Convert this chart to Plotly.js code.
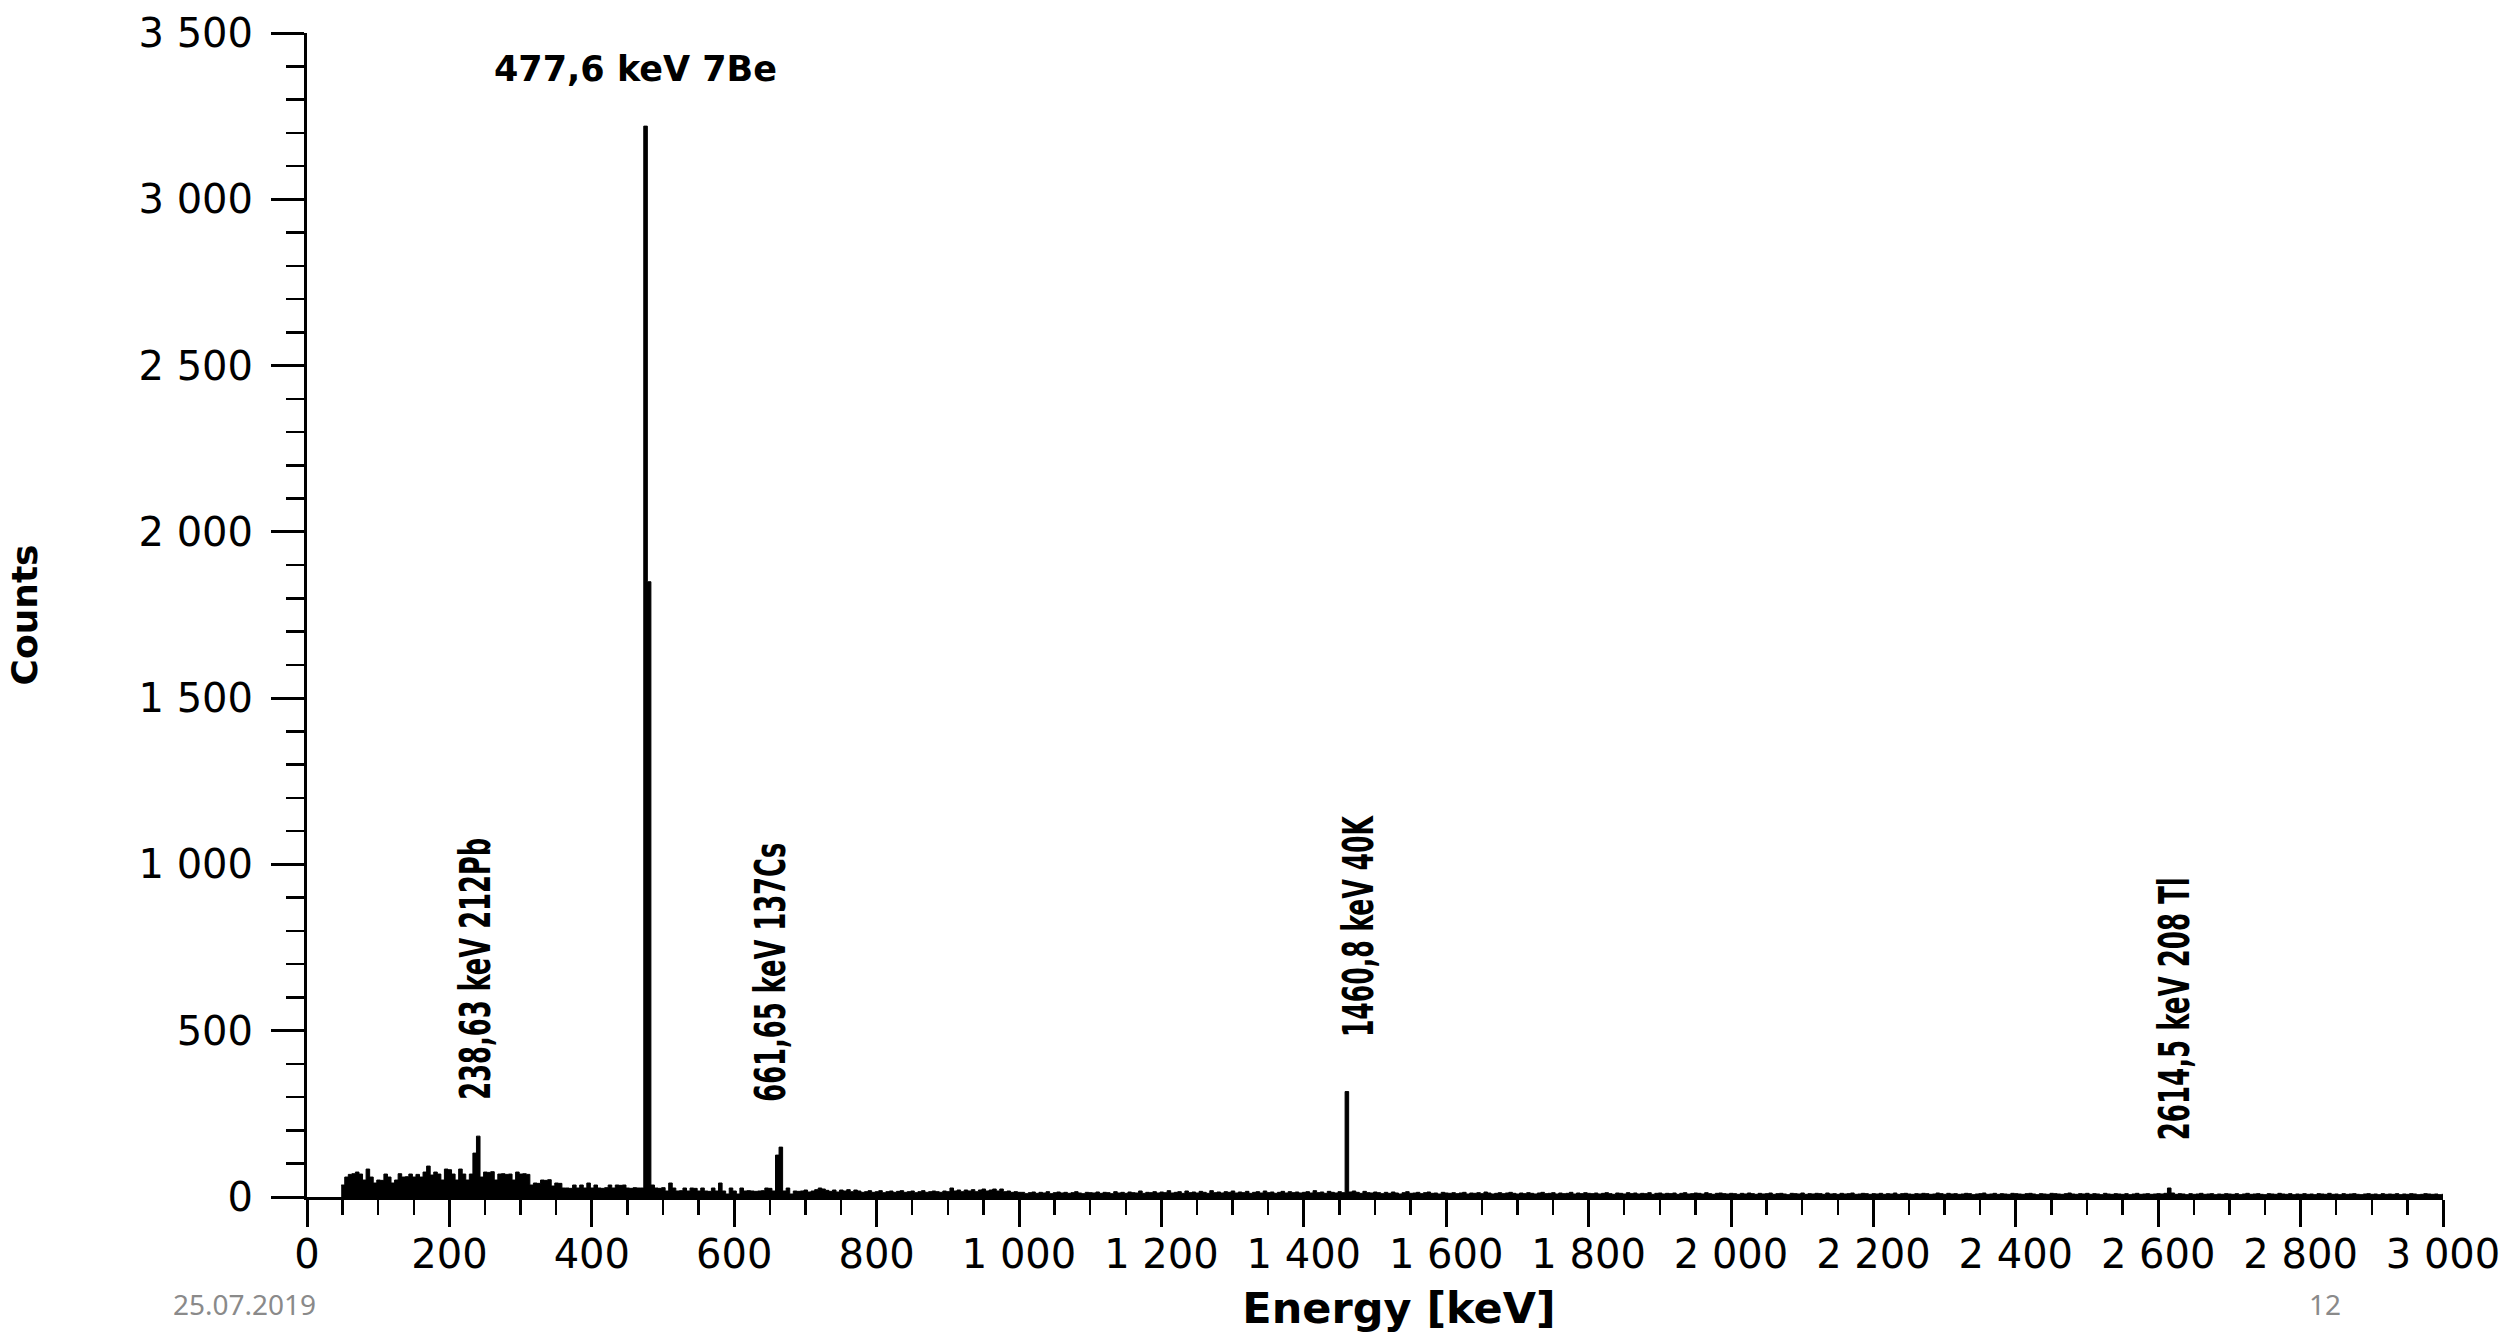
<!DOCTYPE html>
<html>
<head>
<meta charset="utf-8">
<script src="https://cdn.plot.ly/plotly-3.0.1.min.js"></script>
<style>
html, body { margin: 0; padding: 0; background: #ffffff; }
#chart { width: 2509px; height: 1340px; }
</style>
</head>
<body>
<div id="chart"></div>
<script>
// ---- data ----
const binWidthKeV = 5;          // width of one channel group, keV
const firstBinStartKeV = 48;    // left edge of the first non-empty bin

// counts, bins 48 ... 368 keV
const countsLowEnergy = [
  36, 60, 68, 70, 75, 69, 51, 84, 60, 42,
  51, 50, 69, 60, 42, 51, 70, 60, 61, 69,
  60, 68, 60, 75, 93, 66, 75, 69, 51, 84,
  82, 69, 51, 84, 69, 51, 69, 132, 183, 60,
  75, 74, 76, 51, 69, 70, 68, 69, 51, 75,
  69, 70, 68, 36, 42, 41, 51, 50, 52, 33,
  42, 41, 27, 27, 26
];
// counts, bins 373 ... 688 keV
const countsMidEnergy = [
  36, 27, 36, 27, 42, 27, 36, 27, 26, 28,
  36, 27, 36, 35, 36, 27, 26, 28, 27, 27,
  3220, 1850, 36, 27, 26, 28, 18, 42, 27, 18,
  19, 27, 18, 27, 26, 18, 27, 18, 17, 27,
  18, 42, 18, 9, 27, 18, 9, 27, 18, 19,
  18, 17, 18, 19, 27, 26, 18, 126, 150, 18,
  27, 9, 18, 17
];
// counts, bins 693 ... 998 keV
const countsUpperEnergy = [
  18, 21, 15, 18, 22, 27, 24, 20, 17, 21, 15, 21, 18, 22, 16, 21, 18, 14, 16, 19,
  14, 16, 19, 13, 16, 18, 14, 17, 19, 14, 16, 18, 13, 16, 19, 14, 16, 18, 16, 14,
  18, 16, 27, 18, 21, 16, 21, 18, 22, 16, 21, 24, 18, 21, 24, 18, 24, 16, 18, 14,
  16, 14
];
// counts, bins 1003 ... 1498 keV
const countsBand1 = [
  14, 10, 13, 15, 11, 14, 12, 16, 10, 13, 15, 12, 14, 11, 13, 16, 12, 10, 14, 13,
  12, 15, 11, 14, 13, 10, 16, 12, 14, 11, 15, 13, 12, 18, 11, 14, 13, 16, 12, 15,
  13, 19, 12, 14, 16, 11, 18, 13, 15, 12, 17, 14, 11, 19, 13, 15, 12, 16, 14, 18,
  12, 15, 13, 17, 11, 14, 16, 12, 18, 13, 15, 11, 14, 17, 12, 16, 13, 15, 12, 14,
  16, 12, 19, 13, 15, 11, 17, 14, 12, 16, 13, 317, 15, 18, 14, 11, 17, 13, 12, 15
];
// counts, bins 1503 ... 1998 keV
const countsBand2 = [
  13, 10, 14, 11, 15, 12, 9, 13, 16, 11, 12, 14, 10, 13, 15, 11, 12, 9, 14, 12,
  11, 13, 10, 12, 14, 9, 12, 11, 13, 10, 15, 12, 9, 11, 13, 10, 12, 14, 11, 9,
  12, 10, 13, 11, 9, 12, 14, 10, 11, 13, 9, 12, 10, 11, 14, 9, 12, 10, 13, 11,
  10, 12, 9, 11, 13, 10, 8, 12, 11, 9, 13, 10, 12, 9, 11, 10, 13, 8, 11, 12,
  9, 11, 10, 12, 8, 11, 13, 9, 10, 12, 11, 9, 13, 10, 8, 11, 12, 10, 9, 11
];
// counts, bins 2003 ... 2498 keV
const countsBand3 = [
  10, 8, 11, 9, 12, 10, 8, 11, 9, 10, 12, 8, 10, 11, 9, 7, 11, 10, 9, 12,
  8, 10, 9, 11, 10, 8, 12, 9, 10, 8, 11, 9, 10, 12, 8, 9, 11, 10, 8, 10,
  9, 11, 8, 10, 9, 12, 8, 10, 11, 9, 8, 10, 9, 11, 10, 8, 9, 12, 10, 8,
  11, 9, 10, 8, 9, 11, 10, 7, 9, 10, 12, 8, 9, 11, 8, 10, 9, 8, 11, 10,
  9, 8, 10, 11, 9, 7, 10, 9, 8, 11, 10, 9, 8, 10, 12, 9, 8, 10, 9, 11
];
// counts, bins 2503 ... 2998 keV
const countsBand4 = [
  8, 10, 9, 7, 11, 9, 8, 10, 9, 8, 10, 7, 9, 11, 8, 9, 10, 8, 9, 10,
  9, 11, 27, 12, 8, 10, 9, 7, 10, 8, 9, 11, 8, 9, 10, 7, 9, 8, 10, 9,
  8, 10, 7, 9, 11, 8, 9, 10, 8, 7, 10, 9, 8, 11, 9, 8, 10, 7, 9, 8,
  10, 8, 9, 7, 10, 9, 8, 11, 8, 9, 7, 10, 8, 9, 10, 8, 7, 9, 10, 8,
  9, 7, 10, 8, 9, 8, 10, 7, 9, 8, 10, 9, 7, 8, 10, 9, 8, 9, 7, 8
];

const peakEnergies = [238.63, 477.6, 661.65, 1460.8, 2614.5];
const peakLabels = ['238,63 keV 212Pb', '477,6 keV 7Be', '661,65 keV 137Cs', '1460,8 keV 40K', '2614,5 keV 208 Tl'];

const xAxisTitle = 'Energy [keV]';
const yAxisTitle = 'Counts';
const footerDate = '25.07.2019';
const footerPage = '12';

// ---- build the histogram ----
const counts = [].concat(countsLowEnergy, countsMidEnergy, countsUpperEnergy,
                         countsBand1, countsBand2, countsBand3, countsBand4);
const binEdges = counts.map((_, i) => firstBinStartKeV + binWidthKeV * i);
// closing edge so the last bin gets its width in the step drawing
const stepX = binEdges.concat([binEdges[binEdges.length - 1] + binWidthKeV]);
const stepY = counts.concat([counts[counts.length - 1]]);

const spectrum = {
  type: 'scatter',
  mode: 'lines',
  x: stepX,
  y: stepY,
  line: { shape: 'hv', color: '#000000', width: 1 },
  fill: 'tozeroy',
  fillcolor: '#000000',
  hoverinfo: 'skip',
  showlegend: false
};

// ---- label placement (style, not data) ----
const labelStyle = [
  { rot: -90, y: 688, dx: -2, len: 262 },
  { rot: 0,   y: 3392, dx: -12, len: 0 },
  { rot: -90, y: 676, dx: -8, len: 259 },
  { rot: -90, y: 815, dx: 12, len: 221 },
  { rot: -90, y: 565, dx: 6, len: 263 }
];
const condensedFont = '"DejaVu Sans Condensed", "DejaVu Sans", sans-serif';

const peakAnnotations = peakEnergies.map((e, i) => {
  const st = labelStyle[i];
  const horizontal = st.rot === 0;
  return {
    x: e, y: st.y, xref: 'x', yref: 'y',
    text: peakLabels[i],
    showarrow: false,
    textangle: st.rot,
    xanchor: 'center', yanchor: 'middle',
    xshift: st.dx,
    font: horizontal
      ? { family: '"DejaVu Sans", sans-serif', size: 35, color: '#000000', weight: 'bold' }
      : { family: condensedFont, size: 42, color: '#000000', weight: 'bold' }
  };
});

const footerFont = { family: '"Noto Sans", "Open Sans", sans-serif', size: 28, color: '#8a8a8a' };
const footerAnnotations = [
  { text: footerDate, xref: 'paper', yref: 'paper', x: -0.0637, y: -0.092,
    xanchor: 'left', yanchor: 'middle', showarrow: false, font: footerFont },
  { text: footerPage, xref: 'paper', yref: 'paper', x: 0.9448, y: -0.092,
    xanchor: 'center', yanchor: 'middle', showarrow: false, font: footerFont }
];

const tickFont = { family: '"DejaVu Sans", sans-serif', size: 40, color: '#000000' };

const layout = {
  width: 2509,
  height: 1340,
  paper_bgcolor: '#ffffff',
  plot_bgcolor: '#ffffff',
  separators: ', ',
  margin: { l: 307, r: 66, t: 33, b: 143, autoexpand: false },
  showlegend: false,
  xaxis: {
    range: [0, 3000],
    tick0: 0, dtick: 200,
    ticks: 'outside', ticklen: 27, tickwidth: 3, tickcolor: '#000000',
    minor: { dtick: 50, tick0: 0, ticks: 'outside', ticklen: 15, tickwidth: 2.5, tickcolor: '#000000', showgrid: false },
    showline: true, linecolor: '#000000', linewidth: 3,
    showgrid: false, zeroline: false,
    separatethousands: true,
    tickangle: 0,
    tickfont: tickFont,
    ticklabelstandoff: -7,
    automargin: false,
    title: { text: xAxisTitle, standoff: 17,
             font: { family: '"DejaVu Sans", sans-serif', size: 43, color: '#000000', weight: 'bold' } }
  },
  yaxis: {
    range: [0, 3500],
    tick0: 0, dtick: 500,
    ticks: 'outside', ticklen: 33, tickwidth: 3, tickcolor: '#000000',
    minor: { dtick: 100, tick0: 0, ticks: 'outside', ticklen: 18, tickwidth: 2.5, tickcolor: '#000000', showgrid: false },
    showline: true, linecolor: '#000000', linewidth: 3,
    showgrid: false, zeroline: false,
    separatethousands: true,
    tickfont: tickFont,
    ticklabelstandoff: 10,
    automargin: false,
    title: { text: yAxisTitle, standoff: 90,
             font: { family: '"DejaVu Sans", sans-serif', size: 36, color: '#000000', weight: 'bold' } }
  },
  annotations: peakAnnotations.concat(footerAnnotations)
};

Plotly.newPlot('chart', [spectrum], layout, { staticPlot: true, displayModeBar: false }).then(gd => {
  // the rotated peak labels are drawn in a tall, narrow face: fit each to its length
  gd.querySelectorAll('g.annotation').forEach(g => {
    const st = labelStyle[+g.getAttribute('data-index')];
    if (st && st.len) {
      const t = g.querySelector('text.annotation-text');
      if (t) {
        t.setAttribute('textLength', st.len);
        t.setAttribute('lengthAdjust', 'spacingAndGlyphs');
      }
    }
  });
  // the x-axis title sits slightly right of the axis centre in the reference
  const xt = gd.querySelector('.xtitle');
  if (xt) xt.setAttribute('transform', 'translate(24,0)');
});
</script>
</body>
</html>
